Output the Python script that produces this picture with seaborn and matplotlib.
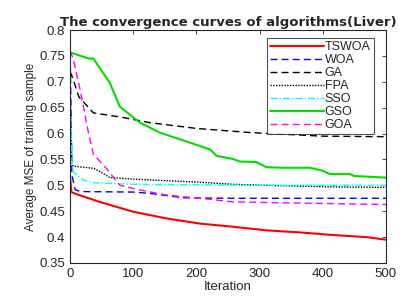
import numpy as np
import pandas as pd
import seaborn as sns
import matplotlib.pyplot as plt

# values
it_tswoa = [0, 2, 10, 47, 100, 153, 206, 258, 311, 364, 416, 469, 500]
mse_tswoa = [0.52, 0.487, 0.483, 0.468, 0.449, 0.436, 0.426, 0.420, 0.413, 0.409, 0.404, 0.400, 0.395]

it_woa = [0, 3, 8, 16, 100, 130, 179, 250, 500]
mse_woa = [0.775, 0.52, 0.492, 0.488, 0.487, 0.484, 0.476, 0.475, 0.475]

it_ga = [0, 5, 14, 37, 80, 127, 200, 285, 400, 500]
mse_ga = [0.72, 0.705, 0.671, 0.640, 0.632, 0.621, 0.610, 0.602, 0.595, 0.594]

it_fpa = [0, 3, 5, 37, 47, 63, 100, 206, 258, 310, 416, 500]
mse_fpa = [0.70, 0.545, 0.537, 0.533, 0.527, 0.515, 0.512, 0.506, 0.502, 0.500, 0.497, 0.496]

it_sso = [0, 3, 5, 21, 37, 100, 300, 500]
mse_sso = [0.675, 0.55, 0.526, 0.510, 0.505, 0.502, 0.500, 0.500]

it_gso = [0, 10, 30, 37, 63, 79, 111, 142, 174, 206, 222, 232, 258, 269, 295,
          311, 338, 380, 400, 411, 443, 450, 500]
mse_gso = [0.757, 0.753, 0.745, 0.745, 0.698, 0.652, 0.621, 0.602, 0.589, 0.576,
           0.569, 0.557, 0.551, 0.546, 0.545, 0.535, 0.534, 0.534, 0.528, 0.522,
           0.522, 0.518, 0.515]

it_goa = [0, 5, 16, 29, 37, 58, 79, 111, 153, 206, 258, 350, 500]
mse_goa = [0.76, 0.745, 0.685, 0.603, 0.560, 0.532, 0.500, 0.491, 0.481, 0.475, 0.468, 0.466, 0.463]

series = [
    ("TSWOA", it_tswoa, mse_tswoa, "red", "-", 1.5),
    ("WOA", it_woa, mse_woa, "blue", (0, (5, 3)), 1.0),
    ("GA", it_ga, mse_ga, "black", (0, (5, 3)), 1.0),
    ("FPA", it_fpa, mse_fpa, "black", (0, (1, 1)), 1.0),
    ("SSO", it_sso, mse_sso, "cyan", (0, (5, 1.5, 1, 1.5)), 1.0),
    ("GSO", it_gso, mse_gso, "#00e000", "-", 1.5),
    ("GOA", it_goa, mse_goa, "magenta", (0, (5, 3)), 1.0),
]

sns.set_style("white")
plt.rcParams["font.family"] = ["Liberation Sans", "DejaVu Sans"]

fig, ax = plt.subplots(figsize=(4.07, 3.04), dpi=100)
fig.subplots_adjust(left=0.172, right=0.948, top=0.901, bottom=0.135)

for name, x, y, c, ls, lw in series:
    df = pd.DataFrame({"Iteration": x, "MSE": y})
    sns.lineplot(data=df, x="Iteration", y="MSE", ax=ax, color=c,
                 linestyle=ls, linewidth=lw, label=name)

ax.set_xlim(0, 500)
ax.set_ylim(0.35, 0.8)
ax.set_xticks([0, 100, 200, 300, 400, 500])
ax.set_yticks(np.arange(0.35, 0.801, 0.05))
ax.set_yticklabels(["0.35", "0.4", "0.45", "0.5", "0.55", "0.6", "0.65", "0.7", "0.75", "0.8"])
ax.tick_params(direction="in", top=True, right=True, labelsize=9.5, length=3, width=0.6,
               colors="#262626")
for s in ax.spines.values():
    s.set_linewidth(0.8)
    s.set_color("#262626")

ax.set_xlabel("Iteration", fontsize=9.5, labelpad=1)
ax.set_ylabel("Average MSE of training sample", fontsize=8.5, labelpad=2)
ax.set_title("The convergence curves of algorithms(Liver)", fontsize=9.5,
             fontweight="heavy", family=["DejaVu Sans"], pad=3)

leg = ax.legend(loc="upper right", bbox_to_anchor=(0.962, 0.966), fontsize=9,
                handlelength=4.3, handletextpad=0.1, labelspacing=0.08,
                borderpad=0.25, borderaxespad=0,
                frameon=True, fancybox=False, edgecolor="#262626")
leg.get_frame().set_linewidth(0.8)

plt.savefig("out.png", dpi=100)
